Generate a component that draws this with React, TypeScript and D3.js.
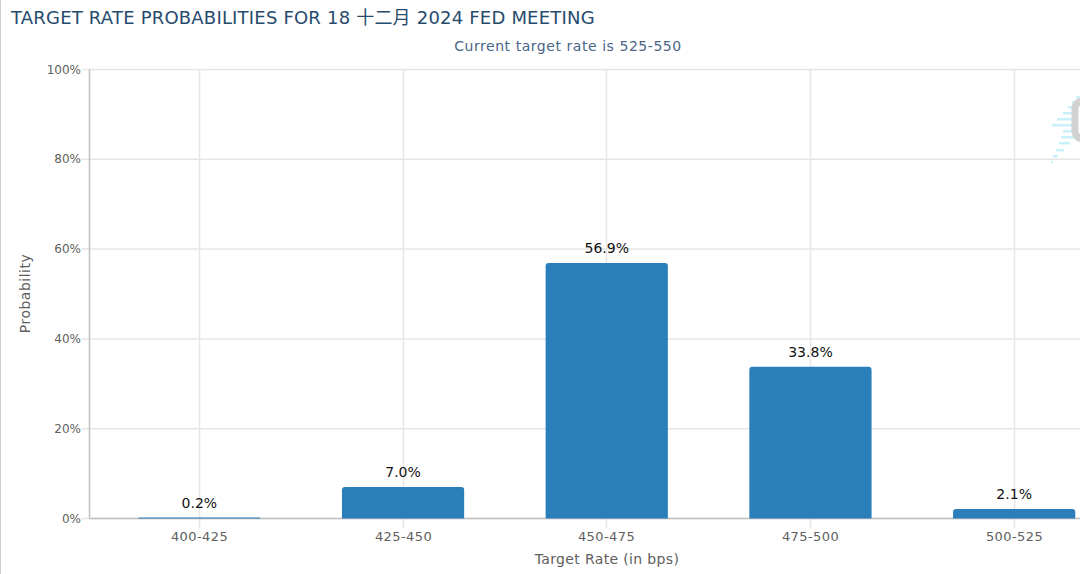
import * as d3 from 'd3'

const categories = ['400-425', '425-450', '450-475', '475-500', '500-525']
const probabilities = [0.2, 7.0, 56.9, 33.8, 2.1]
const yTicks = [0, 20, 40, 60, 80, 100]

const W = 1080
const H = 574
const FONT = '"DejaVu Sans", "Noto Sans CJK SC", sans-serif'

const x = d3.scaleBand<string>().domain(categories).range([97.5, 1116]).paddingInner(0.4).paddingOuter(0.2)
const y = d3.scaleLinear().domain([0, 100]).range([518.5, 69.5])
const left = 89.5

// column with the top corners rounded, highcharts style
function barPath(x0: number, y0: number, w: number, h: number) {
  const r = Math.min(3, h)
  const p = d3.path()
  p.moveTo(x0, y0 + h)
  p.lineTo(x0, y0 + r)
  p.arcTo(x0, y0, x0 + r, y0, r)
  p.lineTo(x0 + w - r, y0)
  p.arcTo(x0 + w, y0, x0 + w, y0 + r, r)
  p.lineTo(x0 + w, y0 + h)
  p.closePath()
  return p.toString()
}

// cut off logo at the right edge
const Watermark = () => {
  const stripes = [
    [1076, 96, 4], [1072, 101, 8], [1068, 106, 12], [1063, 112, 17], [1057, 118, 23], [1052, 124, 28],
    [1063, 130, 17], [1061, 136, 19], [1059, 142, 11], [1056, 149, 8], [1053, 155, 5], [1051, 161, 2],
  ]
  return (
    <g>
      {stripes.map(([sx, sy, sw], i) => (
        <rect key={i} x={sx} y={sy} width={sw} height={2.5} fill="#c9f1f9" />
      ))}
      <rect x={1075} y={101} width={30} height={38} rx={8} fill="#fff" stroke="#d2d2d2" strokeWidth={7} />
    </g>
  )
}

export default function App() {
  return (
    <svg
      width={W}
      height={H}
      viewBox={`0 0 ${W} ${H}`}
      style={{ position: 'fixed', left: 0, top: 0, background: '#fff', fontFamily: FONT }}
    >
      <line x1={0.5} x2={0.5} y1={0} y2={H} stroke="#ccc" />
      <text x={11} y={24} fontSize={18} letterSpacing={0.2} fill="#274b6d">
        TARGET RATE PROBABILITIES FOR 18 十二月 2024 FED MEETING
      </text>
      <text x={568} y={51} fontSize={14} letterSpacing={0.55} fill="#4a6587" textAnchor="middle">
        Current target rate is 525-550
      </text>

      <Watermark />

      {yTicks.map(t => (
        <g key={t}>
          <line x1={left - 8} x2={W} y1={y(t)} y2={y(t)} stroke="#e6e6e6" strokeWidth={1.5} />
          <text x={81} y={y(t) + 4} fontSize={12} fill="#606060" textAnchor="end">
            {t}%
          </text>
        </g>
      ))}
      {categories.map(c => {
        const cx = Math.floor(x(c)! + x.bandwidth() / 2) + 0.5
        return (
          <g key={c}>
            <line x1={cx} x2={cx} y1={y(100)} y2={y(0) + 10} stroke="#e6e6e6" strokeWidth={1.5} />
            <text x={cx} y={541} fontSize={13} letterSpacing={0.4} fill="#606060" textAnchor="middle">
              {c}
            </text>
          </g>
        )
      })}

      <line x1={left} x2={left} y1={y(100)} y2={y(0)} stroke="#c0c0c0" strokeWidth={1.5} />
      <line x1={left} x2={W} y1={y(0)} y2={y(0)} stroke="#c0c0c0" strokeWidth={1.5} />

      {categories.map((c, i) => (
        <path
          key={c}
          d={barPath(x(c)!, y(probabilities[i]), x.bandwidth(), y(0) - y(probabilities[i]))}
          fill="#2a7fba"
        />
      ))}

      {categories.map((c, i) => (
        <text
          key={c}
          x={x(c)! + x.bandwidth() / 2}
          y={y(probabilities[i]) - 10}
          fontSize={14}
          fill="#111"
          textAnchor="middle"
        >
          {probabilities[i].toFixed(1)}%
        </text>
      ))}

      <text x={607} y={564} fontSize={14} letterSpacing={0.35} fill="#606060" textAnchor="middle">
        Target Rate (in bps)
      </text>
      <text transform={`translate(30,293.5) rotate(-90)`} fontSize={14} letterSpacing={0.5} fill="#606060" textAnchor="middle">
        Probability
      </text>
    </svg>
  )
}
